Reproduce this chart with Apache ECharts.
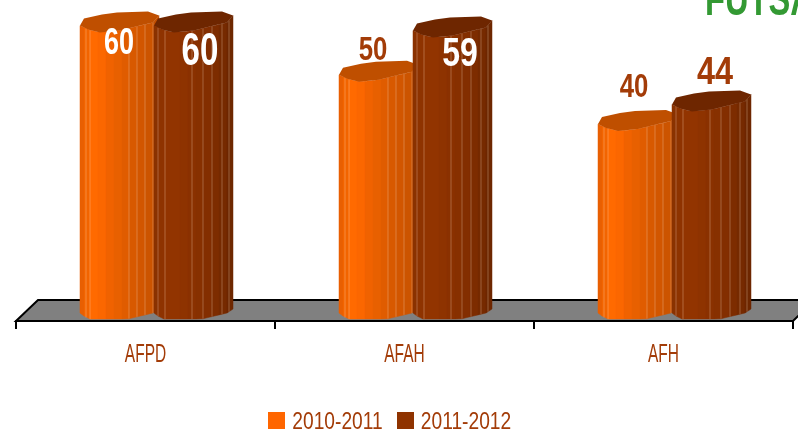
<!DOCTYPE html>
<html>
<head>
<meta charset="utf-8">
<style>
  html, body { margin: 0; padding: 0; background: #fff; }
  #main { width: 798px; height: 431px; }
</style>
<script src="https://cdn.jsdelivr.net/npm/echarts@6/dist/echarts.min.js"></script>
</head>
<body>
<div id="main"></div>
<script>
var categories = ['AFPD', 'AFAH', 'AFH'];
var seriesNames = ['2010-2011', '2011-2012'];
var values2011 = [60, 50, 40];
var values2012 = [60, 59, 44];
var titleText = 'FUTSAL';

// look of the value labels (offset from the bar's left edge / top)
var labelLook = {
  '2010-2011': [
    { dx: 39, dy: 18, size: 36, sx: 0.75, fill: '#ffffff' },
    { dx: 34, dy: -24, size: 33, sx: 0.78, fill: '#a33c08' },
    { dx: 36, dy: -36, size: 33, sx: 0.78, fill: '#a33c08' }
  ],
  '2011-2012': [
    { dx: 46, dy: 27, size: 46, sx: 0.72, fill: '#ffffff' },
    { dx: 47, dy: 24, size: 40, sx: 0.8, fill: '#ffffff' },
    { dx: 43, dy: -31, size: 39, sx: 0.83, fill: '#a33c08' }
  ]
};

var barGap = 8.5;
var capPoints = [[0, 0], [4, -7], [22, -11], [37, -13], [68, -14], [79, -10], [73, -3], [60, 0], [40, 5], [20, 7], [8, 4]];
var capFront = [[0, 0], [8, 4], [20, 7], [40, 5], [60, 0], [73, -3], [79, -10]];
var bottomEdge = [[0, -8], [8, -2], [48, -2], [73, -8], [79, -12]];

var facetEdges = [0, 4, 10, 18, 26, 34, 42, 49, 57, 65, 73, 79];
var shades = {
  '2010-2011': ['#e85f02', '#f26400', '#ff6a00', '#fb6700', '#f06200', '#e86000', '#e05c00', '#d85900', '#d25600', '#cc5400', '#c24f00'],
  '2011-2012': ['#8a3200', '#8e3300', '#923400', '#923400', '#8e3300', '#8a3100', '#873000', '#832e00', '#7d2c00', '#762a00', '#6e2700']
};
var capColor = { '2010-2011': '#bf4f00', '2011-2012': '#6e2600' };
var facetLines = {
  '2010-2011': [6, 10, 49, 57, 65, 73],
  '2011-2012': [4, 11, 38, 49, 58, 68, 75]
};
var fontName = '"Liberation Sans", sans-serif';
var labelColor = '#a33c08';

function edgeAt(edge, x) {
  for (var i = 1; i < edge.length; i++) {
    if (x <= edge[i][0]) {
      var a = edge[i - 1], b = edge[i];
      return a[1] + (b[1] - a[1]) * (x - a[0]) / (b[0] - a[0]);
    }
  }
  return edge[edge.length - 1][1];
}

function narrowText(text, x, y, size, sx, fill, align, weight) {
  return {
    type: 'text',
    x: x,
    y: y,
    scaleX: sx,
    style: {
      text: text,
      fill: fill,
      font: (weight || 'bold') + ' ' + size + 'px ' + fontName,
      textAlign: align || 'center',
      textVerticalAlign: 'middle'
    }
  };
}

function renderBar(name, leftOffset) {
  return function (params, api) {
    var idx = api.value(0);
    var topPt = api.coord([idx, api.value(1)]);
    var basePt = api.coord([idx, 0]);
    var left = topPt[0] + leftOffset;
    var top = topPt[1];
    var base = basePt[1];
    var children = [];

    shades[name].forEach(function (color, i) {
      var x0 = facetEdges[i], x1 = facetEdges[i + 1];
      children.push({
        type: 'polygon',
        shape: { points: [
          [left + x0, top + edgeAt(capFront, x0)],
          [left + x1, top + edgeAt(capFront, x1)],
          [left + x1, base + edgeAt(bottomEdge, x1)],
          [left + x0, base + edgeAt(bottomEdge, x0)]
        ] },
        style: { fill: color, stroke: color, lineWidth: 0.5 }
      });
    });
    facetLines[name].forEach(function (x) {
      children.push({
        type: 'line',
        shape: { x1: left + x, y1: top + edgeAt(capFront, x), x2: left + x, y2: base + edgeAt(bottomEdge, x) },
        style: { stroke: 'rgba(255,225,200,0.3)', lineWidth: 1 }
      });
    });
    children.push({
      type: 'polygon',
      shape: { points: capPoints.map(function (p) { return [left + p[0], top + p[1]]; }) },
      style: { fill: capColor[name] }
    });

    var look = labelLook[name][params.dataIndex];
    children.push(narrowText(String(api.value(1)), left + look.dx, top + look.dy, look.size, look.sx, look.fill));
    return { type: 'group', children: children };
  };
}

function renderFloor(params, api) {
  var c = params.coordSys;
  var floorDepth = 21, floorSkew = 22;
  var y = c.y + c.height;
  return {
    type: 'polygon',
    shape: { points: [
      [c.x, y],
      [c.x + floorSkew, y - floorDepth],
      [c.x + c.width + floorSkew, y - floorDepth],
      [c.x + c.width, y]
    ] },
    style: { fill: '#808080', stroke: '#000', lineWidth: 2 }
  };
}

// the axis can't squeeze its labels, so they are drawn here at the band centres
function renderCategory(params, api) {
  var p = api.coord([api.value(0), 0]);
  return narrowText(categories[params.dataIndex], p[0], p[1] + 34, 25, 0.62, labelColor, 'center', 'normal');
}

var chart = echarts.init(document.getElementById('main'));

chart.setOption({
  animation: false,
  backgroundColor: '#fff',
  legend: {
    data: seriesNames,
    left: 263,
    top: 407,
    icon: 'rect',
    itemWidth: 17,
    itemHeight: 17,
    itemGap: 112,
    formatter: function () { return ''; }
  },
  graphic: [
    narrowText(titleText, 705, 2, 48, 0.68, '#339933', 'left'),
    narrowText(seriesNames[0], 337.5, 422, 24, 0.8, labelColor, 'center', 'normal'),
    narrowText(seriesNames[1], 466, 422, 24, 0.8, labelColor, 'center', 'normal')
  ],
  grid: { left: 16, right: 5, top: 1, bottom: 110 },
  xAxis: {
    type: 'category',
    data: categories,
    axisLine: { lineStyle: { color: '#000', width: 2 } },
    axisTick: { show: true, length: 8, alignWithLabel: false, lineStyle: { color: '#000', width: 2 } },
    axisLabel: { show: false }
  },
  yAxis: {
    type: 'value',
    min: 0,
    max: 65,
    show: false
  },
  series: [
    { type: 'custom', name: 'floor', data: [[0, 0]], renderItem: renderFloor, clip: false, silent: true, z: 1 },
    {
      type: 'custom', name: seriesNames[0], clip: false, z: 2,
      itemStyle: { color: '#ff6600' },
      encode: { x: 0, y: 1 },
      data: values2011.map(function (v, i) { return [i, v]; }),
      renderItem: renderBar(seriesNames[0], -65.5)
    },
    {
      type: 'custom', name: seriesNames[1], clip: false, z: 3,
      itemStyle: { color: '#8f3300' },
      encode: { x: 0, y: 1 },
      data: values2012.map(function (v, i) { return [i, v]; }),
      renderItem: renderBar(seriesNames[1], barGap)
    },
    {
      type: 'custom', name: 'categoryLabels', clip: false, silent: true, z: 4,
      encode: { x: 0, y: 1 },
      data: categories.map(function (c, i) { return [i, 0]; }),
      renderItem: renderCategory
    }
  ]
});
</script>
</body>
</html>
